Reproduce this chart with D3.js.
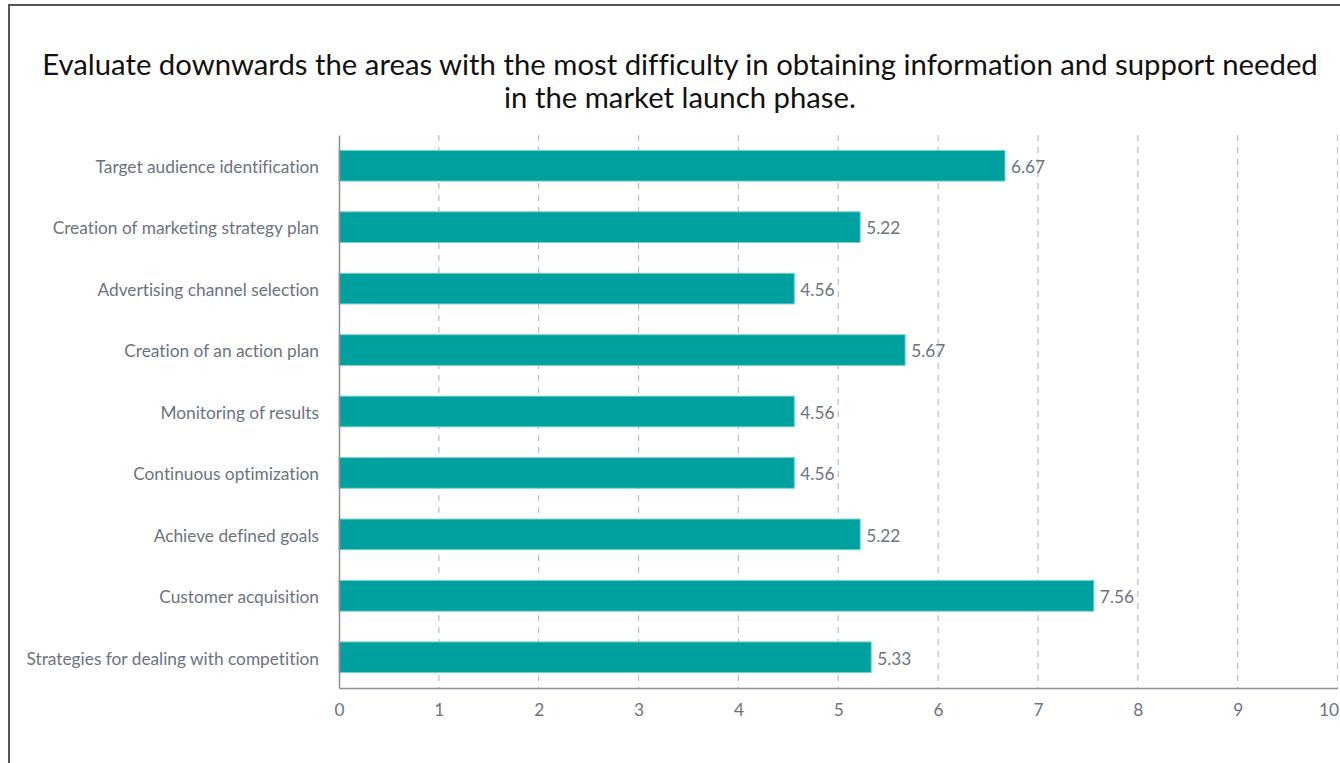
<!DOCTYPE html>
<html><head><meta charset="utf-8">
<script src="https://cdn.jsdelivr.net/npm/d3@7"></script>
<style>html,body{margin:0;padding:0;background:#fff;overflow:hidden}svg{display:block}text{font-variant-ligatures:none}</style>
</head><body>
<svg id="chart" width="1340" height="763"></svg>
<script>
const titleLines = ["Evaluate downwards the areas with the most difficulty in obtaining information and support needed", "in the market launch phase."];
const categories = ["Target audience identification","Creation of marketing strategy plan","Advertising channel selection","Creation of an action plan","Monitoring of results","Continuous optimization","Achieve defined goals","Customer acquisition","Strategies for dealing with competition"];
const values = [6.67,5.22,4.56,5.67,4.56,4.56,5.22,7.56,5.33];
const xTicks = [0,1,2,3,4,5,6,7,8,9,10];

const svg = d3.select("#chart");
const font = "Lato, 'Open Sans', sans-serif";
const gray = "#6b7380";

svg.append("rect").attr("x",9).attr("y",5).attr("width",1400).attr("height",800)
  .attr("fill","none").attr("stroke","#555").attr("stroke-width",2);

svg.append("g").selectAll("text").data(titleLines).join("text")
  .attr("x",680).attr("y",(d,i)=>75+i*33).attr("text-anchor","middle")
  .attr("font-family",font).attr("font-size",29.3).attr("fill","#111").text(d=>d);

const x = d3.scaleLinear().domain([0,10]).range([339,1337.5]);
const y = d3.scaleBand().domain(categories).range([135,688]).paddingInner(0.5).paddingOuter(0.25);

// gridlines
svg.append("g").selectAll("line").data(xTicks.filter(d=>d>0)).join("line")
  .attr("x1",d=>x(d)).attr("x2",d=>x(d)).attr("y1",135).attr("y2",688)
  .attr("stroke","#bdbdbd").attr("stroke-width",1.2).attr("stroke-dasharray","6,6");

// bars
svg.append("g").selectAll("rect").data(categories).join("rect")
  .attr("x",x(0)).attr("y",d=>y(d)).attr("height",y.bandwidth())
  .attr("width",(d,i)=>x(values[i])-x(0))
  .attr("fill","#00a09f").attr("stroke","#7fd0cf").attr("stroke-width",1);

// value labels
svg.append("g").selectAll("text").data(categories).join("text")
  .attr("x",(d,i)=>x(values[i])+6).attr("y",d=>y(d)+y.bandwidth()/2).attr("dy","0.42em")
  .attr("font-family",font).attr("font-size",17.3).attr("fill",gray)
  .text((d,i)=>values[i].toFixed(2));

// y axis
const ya = svg.append("g").attr("transform",`translate(${x(0)},0)`)
  .call(d3.axisLeft(y).tickSize(0).tickPadding(20));
ya.select(".domain").attr("stroke","#8a9099").attr("stroke-width",1.5);
ya.selectAll("text").attr("font-family",font).attr("font-size",17.3).attr("fill",gray).attr("dy","0.42em");

// x axis
const xa = svg.append("g").attr("transform","translate(0,688)")
  .call(d3.axisBottom(x).tickValues(xTicks).tickSize(0).tickPadding(16).tickFormat(d3.format("d")));
xa.select(".domain").attr("stroke","#8a9099").attr("stroke-width",1.5);
xa.selectAll("text").attr("font-family",font).attr("font-size",17.3).attr("fill",gray);
xa.selectAll(".tick").filter(d=>d===10).select("text").attr("text-anchor","end").attr("x",1);
</script>
</body></html>
